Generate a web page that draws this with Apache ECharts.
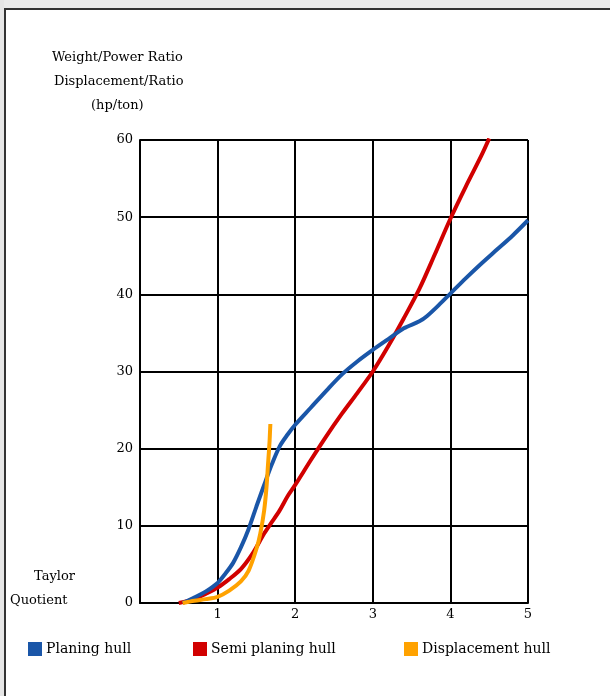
<!DOCTYPE html>
<html>
<head>
<meta charset="utf-8">
<script src="https://cdn.jsdelivr.net/npm/echarts@6/dist/echarts.min.js"></script>
<style>
html,body{margin:0;padding:0;background:#fff;}
#chart{width:610px;height:696px;}
</style>
</head>
<body>
<div id="chart"></div>
<script>
// Data: [Taylor quotient, hp/ton]
const xTicks = [0, 1, 2, 3, 4, 5];
const yTicks = [0, 10, 20, 30, 40, 50, 60];
const seriesNames = ['Planing hull', 'Semi planing hull', 'Displacement hull'];
const planingHull = [[0.55,0],[0.7,0.7],[0.85,1.5],[1.0,2.6],[1.1,3.8],[1.2,5.2],[1.3,7.2],[1.4,9.6],[1.5,12.5],[1.6,15.3],[1.7,18],[1.8,20.3],[1.9,21.8],[2.0,23.1],[2.2,25.3],[2.4,27.5],[2.6,29.6],[2.8,31.3],[3.0,32.8],[3.2,34.2],[3.4,35.6],[3.6,36.5],[3.7,37.2],[3.85,38.6],[4.0,40.1],[4.2,42.1],[4.4,44],[4.6,45.8],[4.8,47.6],[5.0,49.6]];
const semiPlaningHull = [[0.5,0],[0.7,0.5],[0.85,1.2],[1.0,2.0],[1.15,3.1],[1.3,4.4],[1.45,6.4],[1.6,9],[1.7,10.5],[1.8,12],[1.9,13.8],[2.0,15.3],[2.2,18.5],[2.4,21.6],[2.6,24.5],[2.8,27.2],[3.0,30],[3.2,33.3],[3.4,36.9],[3.6,40.7],[3.8,45.2],[4.0,49.8],[4.2,54],[4.4,58],[4.5,60.2]];
const displacementHull = [[0.55,0],[0.7,0.3],[0.85,0.5],[1.0,0.8],[1.15,1.6],[1.3,2.8],[1.4,4.2],[1.5,7],[1.55,9],[1.6,12],[1.63,15],[1.65,18],[1.67,21],[1.68,23.2]];
const colors = ['#1a56a8', '#d10000', '#ffa200'];

const FONT = 'DejaVu Serif';
const TXT = '13px "DejaVu Serif"';
const legendLefts = [23, 188, 399];
const chart = echarts.init(document.getElementById('chart'));
const option = {
  animation: false,
  backgroundColor: '#fff',
  grid: {left: 140, right: 82, top: 140, bottom: 93, containLabel: false},
  xAxis: {
    type: 'value', min: 0, max: 5, interval: 1,
    axisLine: {show: true, onZero: false, lineStyle: {color: '#000', width: 2}},
    axisTick: {show: false},
    splitLine: {show: true, lineStyle: {color: '#000', width: 2}},
    axisLabel: {color: '#000', fontFamily: FONT, fontSize: 13, margin: 5,
      formatter: v => v === 0 ? '' : String(v)}
  },
  yAxis: {
    type: 'value', min: 0, max: 60, interval: 10,
    axisLine: {show: true, onZero: false, lineStyle: {color: '#000', width: 2}},
    axisTick: {show: false},
    splitLine: {show: true, lineStyle: {color: '#000', width: 2}},
    axisLabel: {color: '#000', fontFamily: FONT, fontSize: 13, margin: 7,
      formatter: v => String(v)}
  },
  legend: seriesNames.map((n, i) => ({
    left: legendLefts[i], top: 637, itemWidth: 14, itemHeight: 14,
    icon: 'rect',
    textStyle: {color: '#000', fontFamily: FONT, fontSize: 14, padding: [0, 0, 0, -1]},
    data: [n]
  })),
  series: [
    {name: seriesNames[0], type: 'line', data: planingHull, showSymbol: false, smooth: 0.3,
      lineStyle: {color: colors[0], width: 4}, itemStyle: {color: colors[0]}, z: 3},
    {name: seriesNames[1], type: 'line', data: semiPlaningHull, showSymbol: false, smooth: 0.3,
      lineStyle: {color: colors[1], width: 4}, itemStyle: {color: colors[1]}, z: 2},
    {name: seriesNames[2], type: 'line', data: displacementHull, showSymbol: false, smooth: 0.3,
      lineStyle: {color: colors[2], width: 4}, itemStyle: {color: colors[2]}, z: 4}
  ],
  graphic: [
    {type: 'rect', shape: {x: 0, y: 0, width: 610, height: 8}, style: {fill: '#ebebeb'}, silent: true},
    {type: 'rect', shape: {x: 0, y: 0, width: 4, height: 696}, style: {fill: '#e6e6e6'}, silent: true},
    {type: 'rect', shape: {x: 4, y: 8, width: 606, height: 2}, style: {fill: '#333'}, silent: true},
    {type: 'rect', shape: {x: 4, y: 8, width: 2, height: 688}, style: {fill: '#333'}, silent: true},
    {type: 'text', left: 52, top: 51, style: {text: 'Weight/Power Ratio', fill: '#000', font: TXT}},
    {type: 'text', left: 54, top: 75, style: {text: 'Displacement/Ratio', fill: '#000', font: TXT}},
    {type: 'text', left: 91, top: 99, style: {text: '(hp/ton)', fill: '#000', font: TXT}},
    {type: 'text', left: 34, top: 570, style: {text: 'Taylor', fill: '#000', font: TXT}},
    {type: 'text', left: 10, top: 594, style: {text: 'Quotient', fill: '#000', font: TXT}}
  ]
};
chart.setOption(option);
</script>
</body>
</html>
